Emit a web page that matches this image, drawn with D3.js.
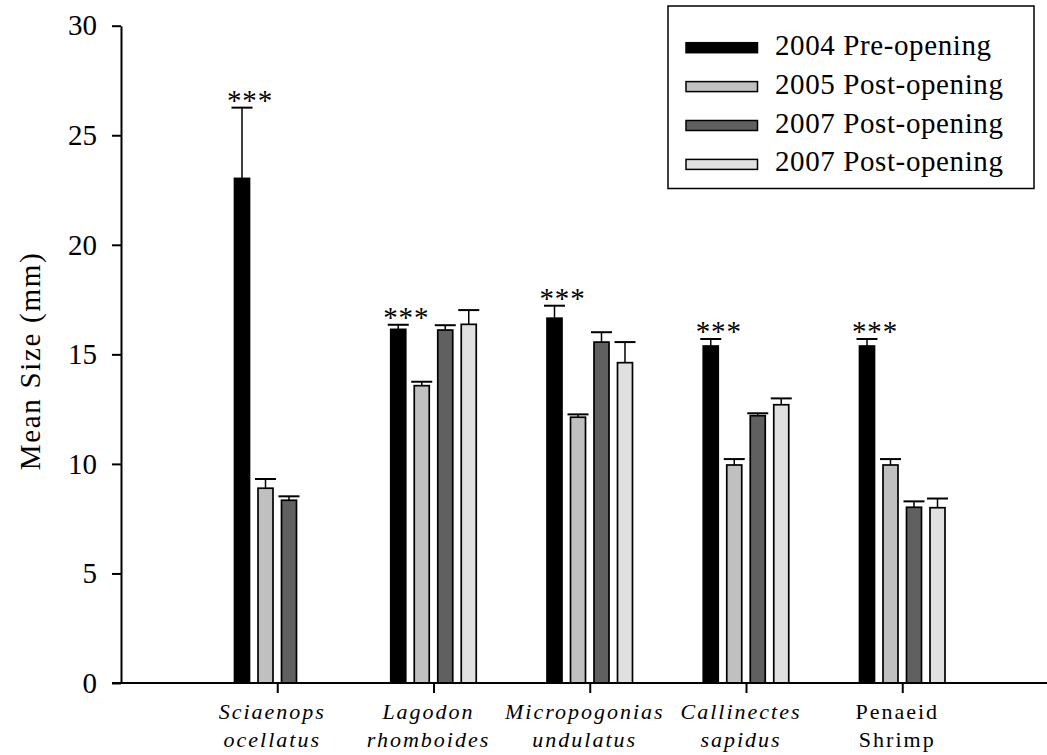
<!DOCTYPE html>
<html>
<head>
<title>Mean size by species</title>
<script src="https://d3js.org/d3.v7.min.js"></script>
<style>
  body { margin: 0; background: #fff; }
  text { font-family: "Liberation Serif", "Times New Roman", serif; fill: #000; }
</style>
</head>
<body>
<div id="chart"></div>
<script type="text/javascript">

  // species, split over two label lines
  const catLine1 = ["Sciaenops", "Lagodon", "Micropogonias", "Callinectes", "Penaeid"];
  const catLine2 = ["ocellatus", "rhomboides", "undulatus", "sapidus", "Shrimp"];
  const catItalic = [true, true, true, true, false];

  const seriesNames = ["2004 Pre-opening", "2005 Post-opening", "2007 Post-opening", "2007 Post-opening"];
  const seriesColors = ["#000000", "#c0c0c0", "#606060", "#e0e0e0"];

  // means and standard errors
  const mean2004 = [23.03, 16.14, 16.65, 15.38, 15.38];
  const err2004  = [3.23, 0.21, 0.57, 0.32, 0.32];
  const mean2005 = [8.89, 13.57, 12.13, 9.95, 9.95];
  const err2005  = [0.42, 0.18, 0.13, 0.27, 0.27];
  const mean2007a = [8.34, 16.11, 15.56, 12.20, 8.02];
  const err2007a  = [0.18, 0.22, 0.45, 0.11, 0.27];
  const mean2007b = [null, 16.37, 14.62, 12.70, 8.00];
  const err2007b  = [null, 0.65, 0.94, 0.29, 0.42];

  const signif = ["***", "***", "***", "***", "***"]; // on the 2004 bar

  const yTicks = [0, 5, 10, 15, 20, 25, 30];

  const means = [mean2004, mean2005, mean2007a, mean2007b];
  const errs = [err2004, err2005, err2007a, err2007b];

  const width = 1047, height = 755;
  const svg = d3.select("#chart").append("svg")
    .attr("width", width)
    .attr("height", height);

  const x0 = 121, yBase = 683;

  // category i sits at i+1, the y axis at 0
  const x = d3.scaleLinear().domain([0, 6]).range([x0, x0 + 6 * 156.25]);
  const xInner = d3.scaleBand().domain(d3.range(4)).range([-47, 47])
    .paddingInner(0.362).paddingOuter(0.181);
  const y = d3.scaleLinear().domain([0, 30]).range([yBase, 25.7]);

  // bars
  let bars = [];
  means.forEach((s, si) => {
    s.forEach((v, ci) => {
      if (v === null) return;
      bars.push({ si: si, ci: ci, v: v, e: errs[si][ci] });
    });
  });

  const bx = d => x(d.ci + 1) + xInner(d.si);
  const bw = xInner.bandwidth();

  svg.append("g").selectAll("rect")
    .data(bars)
    .enter().append("rect")
    .attr("x", bx)
    .attr("y", d => y(d.v))
    .attr("width", bw)
    .attr("height", d => y(0) - y(d.v))
    .attr("fill", d => seriesColors[d.si])
    .attr("stroke", "#000")
    .attr("stroke-width", 1.7);

  // error bars (upper only)
  const eg = svg.append("g").attr("stroke", "#000");
  eg.selectAll("line.stem")
    .data(bars)
    .enter().append("line")
    .attr("class", "stem")
    .attr("x1", d => bx(d) + bw / 2)
    .attr("x2", d => bx(d) + bw / 2)
    .attr("y1", d => y(d.v))
    .attr("y2", d => y(d.v + d.e))
    .attr("stroke-width", 1.5);
  eg.selectAll("line.cap")
    .data(bars)
    .enter().append("line")
    .attr("class", "cap")
    .attr("x1", d => bx(d) + bw / 2 - 10.5)
    .attr("x2", d => bx(d) + bw / 2 + 10.5)
    .attr("y1", d => y(d.v + d.e))
    .attr("y2", d => y(d.v + d.e))
    .attr("stroke-width", 2);

  // asterisks over the 2004 bars
  svg.append("g").selectAll("text")
    .data(bars.filter(d => d.si === 0 && signif[d.ci]))
    .enter().append("text")
    .attr("x", d => bx(d) + bw / 2 + 8)
    .attr("y", d => y(d.v + d.e) + 2)
    .attr("text-anchor", "middle")
    .style("font-size", "29px")
    .style("letter-spacing", "0.8px")
    .text(d => signif[d.ci]);

  // y axis
  const yAxis = svg.append("g")
    .attr("transform", "translate(" + x0 + ",0)")
    .call(d3.axisLeft(y).tickValues(yTicks).tickSize(9).tickSizeOuter(0).tickPadding(15));
  yAxis.selectAll("path, line").attr("stroke", "#000").attr("stroke-width", 2);
  yAxis.selectAll("text")
    .style("font-size", "29px")
    .style("font-family", "'Liberation Serif', serif");

  // x axis
  const xAxis = svg.append("g")
    .attr("transform", "translate(0," + yBase + ")")
    .call(d3.axisBottom(x).tickValues([1, 2, 3, 4, 5]).tickSize(10).tickSizeOuter(0).tickFormat(""));
  xAxis.select(".domain").remove();
  xAxis.selectAll("line").attr("stroke", "#000").attr("stroke-width", 2);
  svg.append("line")
    .attr("x1", x0 - 9).attr("x2", width)
    .attr("y1", yBase).attr("y2", yBase)
    .attr("stroke", "#000").attr("stroke-width", 2);

  // category labels
  const cl = svg.append("g").selectAll("text")
    .data(catLine1)
    .enter().append("text")
    .attr("text-anchor", "middle")
    .style("font-size", "22px")
    .style("letter-spacing", "2px")
    .style("font-style", (d, i) => catItalic[i] ? "italic" : "normal");
  cl.append("tspan")
    .attr("x", (d, i) => x(i + 1) - 5)
    .attr("y", 719)
    .text(d => d);
  cl.append("tspan")
    .attr("x", (d, i) => x(i + 1) - 5)
    .attr("y", 747)
    .text((d, i) => catLine2[i]);

  // y label
  svg.append("text")
    .attr("transform", "translate(40,361) rotate(-90)")
    .attr("text-anchor", "middle")
    .style("font-size", "29px")
    .style("letter-spacing", "1.7px")
    .text("Mean Size (mm)");

  // legend
  const lg = svg.append("g");
  lg.append("rect")
    .attr("x", 668).attr("y", 6)
    .attr("width", 366).attr("height", 182.5)
    .attr("fill", "#fff").attr("stroke", "#000").attr("stroke-width", 1.5);
  const li = lg.selectAll("g.item")
    .data(seriesNames)
    .enter().append("g")
    .attr("class", "item")
    .attr("transform", (d, i) => "translate(0," + (47.7 + i * 38.9) + ")");
  li.append("rect")
    .attr("x", 686).attr("y", -5)
    .attr("width", 71.5).attr("height", 10)
    .attr("fill", (d, i) => seriesColors[i])
    .attr("stroke", "#000").attr("stroke-width", 1.5);
  li.append("text")
    .attr("x", 775).attr("y", 7)
    .style("font-size", "29px")
    .style("letter-spacing", "0.6px")
    .text(d => d);

</script>
</body>
</html>
